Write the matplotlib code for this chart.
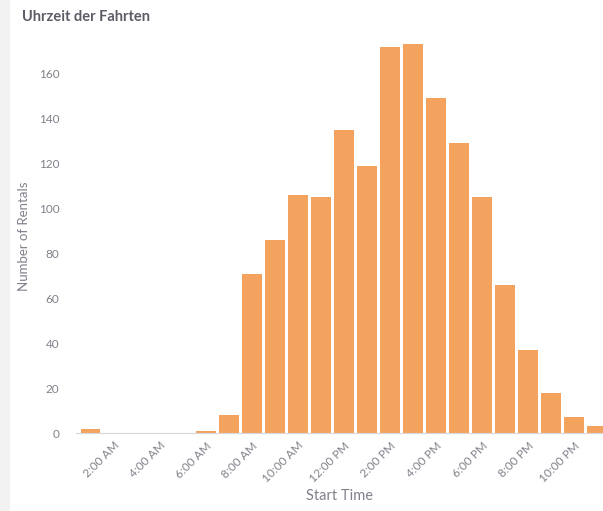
import matplotlib
matplotlib.use("Agg")
import matplotlib.pyplot as plt
from matplotlib.patches import Rectangle

plt.rcParams["font.family"] = ["Lato", "DejaVu Sans"]

# Rentals per start hour (1 AM .. 11 PM)
hours = list(range(1, 24))
rentals = [2, 0, 0, 0, 0, 1, 8, 71, 86, 106, 105, 135, 119, 172, 173,
           149, 129, 105, 66, 37, 18, 7, 3]

tick_hours = [2, 4, 6, 8, 10, 12, 14, 16, 18, 20, 22]
tick_labels = ["2:00 AM", "4:00 AM", "6:00 AM", "8:00 AM", "10:00 AM",
               "12:00 PM", "2:00 PM", "4:00 PM", "6:00 PM", "8:00 PM",
               "10:00 PM"]
y_ticks = [0, 20, 40, 60, 80, 100, 120, 140, 160]

W, H = 603, 511
fig = plt.figure(figsize=(W / 100, H / 100), dpi=100)
fig.patch.set_facecolor("white")

# light panel edge on the left
fig.patches.append(Rectangle((0, 0), 10 / W, 1, transform=fig.transFigure,
                             facecolor="#f2f2f2", edgecolor="none", zorder=0))

ax = fig.add_axes([76 / W, 78 / H, (W - 76) / W, 393 / H])
ax.set_facecolor("none")

ax.bar(hours, rentals, width=0.83, color="#F4A35F", zorder=2)

ax.set_xlim(0.35, 23.26)
ax.set_ylim(0, 175)

text_col = "#80808a"
ax.set_yticks(y_ticks)
ax.set_yticklabels([str(v) for v in y_ticks], fontsize=8.5, color=text_col)
ax.set_xticks(tick_hours)
ax.set_xticklabels(tick_labels, fontsize=8.5, color=text_col, rotation=45,
                   ha="right", rotation_mode="anchor")
ax.tick_params(axis="both", length=0)
ax.tick_params(axis="y", pad=12)
ax.tick_params(axis="x", pad=5)

for side in ["top", "right", "left"]:
    ax.spines[side].set_visible(False)
ax.spines["bottom"].set_color("#d6d6dc")
ax.spines["bottom"].set_linewidth(0.8)

ax.set_ylabel("Number of Rentals", fontsize=9.5, color=text_col, labelpad=6)
ax.set_xlabel("Start Time", fontsize=10.5, color=text_col, labelpad=3)

fig.text(22 / W, 1 - 17 / H, "Uhrzeit der Fahrten", fontsize=10.5,
         fontweight="bold", color="#5c5c66", ha="left", va="center")

fig.savefig("out.png", dpi=100)
